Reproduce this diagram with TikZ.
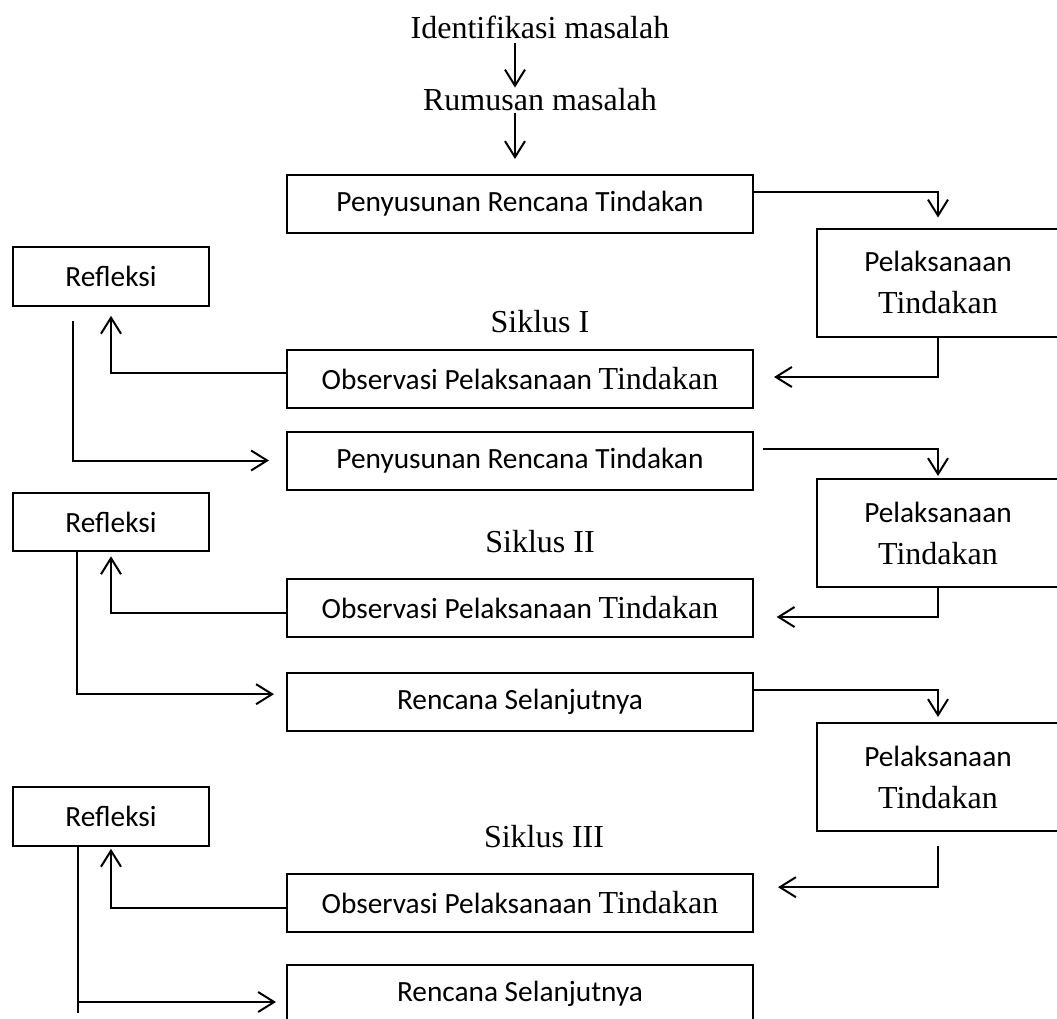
\documentclass[tikz,border=0pt]{standalone}
\usepackage{fontspec}
\setmainfont{Carlito}
\newfontfamily\timesfont{Liberation Serif}
\usepackage{tikz}
\usetikzlibrary{arrows.meta}
\newcommand{\tnd}{{\timesfont\fontsize{24}{31.5}\selectfont Tindakan}}
\tikzset{
  box/.style={rectangle, draw=black, line width=1.5pt,
    minimum width=349.5pt, minimum height=43.5pt, inner sep=0pt,
    font=\fontsize{22}{31.5}\selectfont},
  refbox/.style={box, minimum width=147pt, minimum height=44pt},
  pelbox/.style={box, minimum width=181.5pt, minimum height=81pt, align=center},
  heading/.style={inner sep=0pt, anchor=base,
    font=\timesfont\fontsize{24}{29}\selectfont},
  arrow/.style={-{Straight Barb[length=12pt, width=15pt]}, line width=1.5pt},
  line/.style={line width=1.5pt}
}

\begin{document}
\begin{tikzpicture}[x=0.75pt, y=-0.75pt]
  \useasboundingbox (0,0) rectangle (1057,1018);
  \clip (0,0) rectangle (1057,1018);

  % Top of the flow
  \node[heading] (ident) at (540,38) {Identifikasi masalah};
  \node[heading] (rumus) at (540,110) {Rumusan masalah};

  % Planning and observation boxes
  \node[box] (plan1) at (520,204) {Penyusunan Rencana Tindakan};
  \node[box] (plan2) at (520,460.5) {Penyusunan Rencana Tindakan};
  \node[box] (plan3) at (520,701.5) {Rencana Selanjutnya};
  \node[box] (plan4) at (520,994) {Rencana Selanjutnya};
  \foreach \i/\y in {1/379, 2/608, 3/902.5} {
    \node[box] (obs\i) at (520,\y) {Observasi Pelaksanaan \tnd};
  }

  % Reflection and action boxes
  \foreach \i/\y in {1/276.5, 2/522, 3/816.5} {
    \node[refbox] (ref\i) at (111,\y) {Refleksi};
  }
  \foreach \i/\y in {1/282.5, 2/533, 3/777} {
    \node[pelbox] (pel\i) at (938,\y) {Pelaksanaan\\\tnd};
  }

  % Cycle labels
  \node[heading] (sik1) at (540,332) {Siklus I};
  \node[heading] (sik2) at (540,552) {Siklus II};
  \node[heading] (sik3) at (544,847) {Siklus III};

  % Start
  \coordinate (top1) at ([xshift=-18.75pt]ident.south);
  \coordinate (top2) at ([xshift=-18.75pt]rumus.south);
  \draw[arrow, shorten <=3pt] (top1) -- (top1 |- rumus.north);
  \draw[arrow, shorten <=2pt, shorten >=11.25pt] (top2) -- (top2 |- plan1.north);

  % Siklus I
  \draw[arrow, shorten >=7.5pt] ([yshift=9pt]plan1.east) -| (pel1.north);
  \draw[arrow, shorten >=15pt] (pel1.south) |- ([yshift=1.5pt]obs1.east);
  \draw[arrow, shorten >=6.75pt] ([yshift=4.5pt]obs1.west) -| (ref1.south);
  \draw[arrow, shorten <=10.5pt, shorten >=12.75pt] ([xshift=-28.5pt]ref1.south) |- (plan2.west);

  % Siklus II
  \draw[arrow, shorten >=1.5pt] ([xshift=6.75pt, yshift=9pt]plan2.east) -| (pel2.north);
  \draw[arrow, shorten >=17pt] (pel2.south) |- ([yshift=-6.75pt]obs2.east);
  \draw[arrow, shorten >=3pt] ([yshift=-3.75pt]obs2.west) -| (ref2.south);
  \draw[arrow, shorten >=9pt] ([xshift=-25.5pt]ref2.south) |- ([yshift=5.5pt]plan3.west);

  % Siklus III
  \draw[arrow, shorten >=3.75pt] ([yshift=9pt]plan3.east) -| (pel3.north);
  \draw[arrow, shorten <=10.5pt, shorten >=18pt] (pel3.south) |- ([yshift=11.5pt]obs3.east);
  \draw[arrow, shorten >=1.5pt] ([yshift=-4pt]obs3.west) -| (ref3.south);
  \draw[arrow, shorten >=7.5pt] ([xshift=-24.75pt]ref3.south) |- ([yshift=-6pt]plan4.west);
  \coordinate (tail) at ([xshift=-24.75pt, yshift=-124.5pt]ref3.south);
  \draw[line] (ref3.south -| tail) -- (tail);
\end{tikzpicture}
\end{document}
